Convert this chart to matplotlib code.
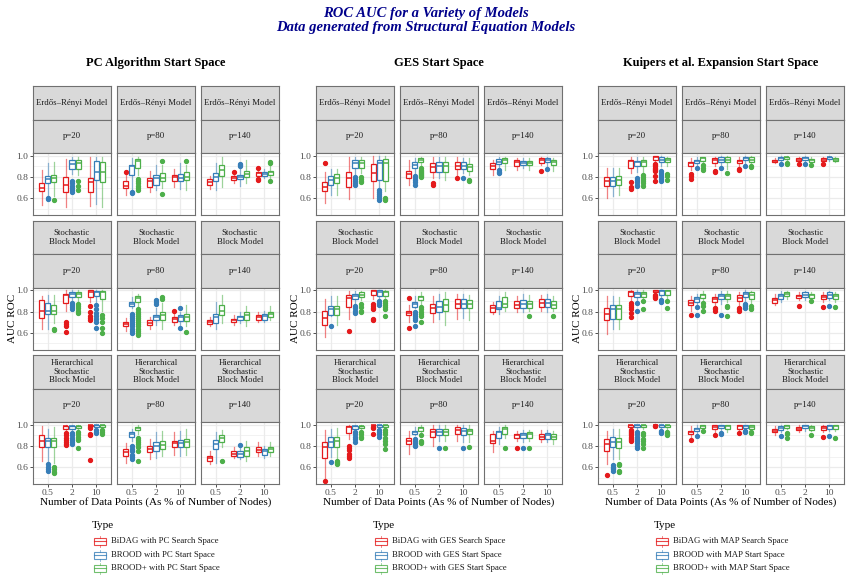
"""ROC AUC por modelo: 3 espacios de inicio x 3 modelos de grafo x 3 tamaños p."""
import matplotlib
matplotlib.use("Agg")
import matplotlib.pyplot as plt
from matplotlib.patches import Rectangle

plt.rcParams["font.family"] = ["Liberation Serif", "DejaVu Serif"]

# ---------------------------------------------------------------- datos
CATS = ["0.5", "2", "10"]
P_LABELS = ["p=20", "p=80", "p=140"]
MODELS = ["Erdős–Rényi Model", "Stochastic\nBlock Model",
          "Hierarchical\nStochastic\nBlock Model"]
GROUP_TITLES = ["PC Algorithm Start Space", "GES Start Space",
                "Kuipers et al. Expansion Start Space"]
LEGEND_LABELS = [
    ["BiDAG with PC Search Space", "BROOD with PC Start Space", "BROOD+ with PC Start Space"],
    ["BiDAG with GES Search Space", "BROOD with GES Start Space", "BROOD+ with GES Start Space"],
    ["BiDAG with MAP Search Space", "BROOD with MAP Start Space", "BROOD+ with MAP Start Space"],
]
COLORS = ["#E41A1C", "#377EB8", "#4DAF4A"]

# cada caja: (whisker bajo, q1, mediana, q3, whisker alto, outliers)
# orden por panel: 0.5 (BiDAG, BROOD, BROOD+), 2 (...), 10 (...)
PC_ER = [
    [(0.54, 0.67, 0.70, 0.74, 0.87, []),
     (0.63, 0.74, 0.78, 0.81, 0.93, [0.60, 0.59]),
     (0.62, 0.75, 0.79, 0.82, 0.94, [0.58]),
     (0.52, 0.66, 0.73, 0.80, 0.97, []),
     (0.83, 0.88, 0.92, 0.96, 0.99, [0.76, 0.74, 0.72, 0.70, 0.68, 0.66]),
     (0.82, 0.88, 0.93, 0.96, 0.99, [0.76, 0.72, 0.68]),
     (0.53, 0.66, 0.75, 0.79, 0.99, []),
     (0.55, 0.77, 0.85, 0.95, 0.99, []),
     (0.52, 0.75, 0.85, 0.94, 0.99, [])],
    [(0.63, 0.70, 0.72, 0.76, 0.82, [0.85]),
     (0.69, 0.82, 0.90, 0.91, 0.98, [0.66, 0.65]),
     (0.82, 0.89, 0.95, 0.97, 0.99, [0.78, 0.76, 0.74, 0.72, 0.70, 0.68]),
     (0.66, 0.71, 0.76, 0.79, 0.86, []),
     (0.68, 0.73, 0.79, 0.82, 0.91, []),
     (0.70, 0.76, 0.79, 0.84, 0.91, [0.95, 0.64]),
     (0.71, 0.76, 0.80, 0.82, 0.88, []),
     (0.69, 0.76, 0.79, 0.83, 0.93, []),
     (0.68, 0.77, 0.80, 0.85, 0.91, [0.95])],
    [(0.69, 0.73, 0.755, 0.78, 0.81, []),
     (0.68, 0.76, 0.80, 0.84, 0.93, []),
     (0.71, 0.81, 0.87, 0.91, 0.99, []),
     (0.74, 0.77, 0.79, 0.81, 0.83, [0.85]),
     (0.72, 0.78, 0.80, 0.82, 0.88, [0.92, 0.91, 0.90]),
     (0.74, 0.80, 0.83, 0.86, 0.96, []),
     (0.79, 0.81, 0.835, 0.85, 0.87, [0.89, 0.78, 0.77]),
     (0.79, 0.81, 0.83, 0.85, 0.88, []),
     (0.79, 0.82, 0.845, 0.86, 0.90, [0.94, 0.93, 0.76])],
]
PC_SBM = [
    [(0.64, 0.74, 0.81, 0.91, 0.95, []),
     (0.64, 0.78, 0.81, 0.88, 0.96, []),
     (0.69, 0.78, 0.81, 0.86, 0.96, [0.64, 0.63]),
     (0.81, 0.88, 0.955, 0.97, 1.0, [0.70, 0.68, 0.66, 0.61]),
     (0.89, 0.94, 0.97, 0.98, 1.0, [0.88, 0.86, 0.84, 0.82]),
     (0.89, 0.94, 0.97, 0.98, 1.0, [0.87, 0.85, 0.83, 0.81, 0.79]),
     (0.89, 0.94, 0.98, 1.0, 1.0, [0.85, 0.80, 0.76, 0.74, 0.72]),
     (0.89, 0.95, 0.98, 0.99, 1.0, [0.86, 0.82, 0.79, 0.76, 0.73, 0.70, 0.65]),
     (0.81, 0.92, 0.98, 0.99, 1.0, [0.77, 0.74, 0.70, 0.65, 0.60])],
    [(0.62, 0.66, 0.68, 0.70, 0.74, []),
     (0.83, 0.85, 0.875, 0.89, 0.94, [0.78, 0.76, 0.74, 0.72, 0.70, 0.68, 0.66, 0.64, 0.62, 0.60]),
     (0.85, 0.89, 0.925, 0.95, 0.97, [0.82, 0.80, 0.78, 0.76, 0.74, 0.72, 0.70, 0.68, 0.66,
                                      0.64, 0.62, 0.60, 0.58]),
     (0.64, 0.67, 0.695, 0.72, 0.75, []),
     (0.67, 0.72, 0.745, 0.77, 0.83, [0.91, 0.89, 0.87]),
     (0.64, 0.72, 0.765, 0.80, 0.88, [0.94, 0.92]),
     (0.67, 0.70, 0.735, 0.75, 0.79, [0.81]),
     (0.67, 0.71, 0.745, 0.77, 0.80, [0.835, 0.65]),
     (0.66, 0.71, 0.75, 0.78, 0.86, [0.61])],
    [(0.66, 0.68, 0.70, 0.72, 0.75, []),
     (0.64, 0.69, 0.75, 0.78, 0.89, []),
     (0.69, 0.77, 0.81, 0.86, 0.96, []),
     (0.67, 0.70, 0.72, 0.735, 0.77, []),
     (0.69, 0.72, 0.745, 0.76, 0.80, []),
     (0.66, 0.72, 0.765, 0.80, 0.85, []),
     (0.70, 0.72, 0.745, 0.77, 0.80, []),
     (0.70, 0.725, 0.755, 0.78, 0.81, []),
     (0.72, 0.745, 0.775, 0.80, 0.85, [])],
]
PC_HSBM = [
    [(0.66, 0.79, 0.85, 0.90, 0.99, []),
     (0.66, 0.79, 0.845, 0.88, 0.96, [0.63, 0.60, 0.58, 0.57]),
     (0.645, 0.79, 0.845, 0.88, 0.98, [0.60, 0.58, 0.56, 0.55]),
     (0.93, 0.96, 0.99, 0.99, 1.0, [0.92, 0.90, 0.88, 0.86, 0.84, 0.82, 0.81]),
     (0.93, 0.96, 0.985, 0.99, 1.0, [0.92, 0.90, 0.88, 0.86, 0.84, 0.82]),
     (0.94, 0.97, 0.985, 0.99, 1.0, [0.93, 0.91, 0.89, 0.87, 0.86, 0.78]),
     (0.99, 0.99, 1.0, 1.0, 1.0, [0.98, 0.97, 0.91, 0.90, 0.67]),
     (0.96, 0.98, 0.995, 1.0, 1.0, [0.95, 0.93, 0.92]),
     (0.96, 0.98, 0.995, 1.0, 1.0, [0.95, 0.93, 0.91])],
    [(0.645, 0.71, 0.74, 0.77, 0.83, []),
     (0.85, 0.89, 0.91, 0.93, 0.96, [0.80, 0.77, 0.75, 0.72, 0.70, 0.68]),
     (0.91, 0.95, 0.97, 0.98, 1.0, [0.88, 0.86, 0.84, 0.82, 0.79, 0.75, 0.66]),
     (0.68, 0.74, 0.77, 0.80, 0.87, []),
     (0.69, 0.755, 0.80, 0.835, 0.93, []),
     (0.71, 0.77, 0.81, 0.85, 0.945, []),
     (0.72, 0.79, 0.825, 0.85, 0.93, []),
     (0.71, 0.79, 0.825, 0.86, 0.945, []),
     (0.72, 0.79, 0.835, 0.87, 0.96, [])],
    [(0.63, 0.66, 0.685, 0.71, 0.755, []),
     (0.645, 0.77, 0.82, 0.86, 0.93, []),
     (0.79, 0.835, 0.875, 0.90, 0.95, [0.66]),
     (0.685, 0.71, 0.73, 0.755, 0.79, []),
     (0.675, 0.70, 0.725, 0.75, 0.79, [0.81]),
     (0.66, 0.71, 0.75, 0.79, 0.85, []),
     (0.71, 0.74, 0.765, 0.79, 0.835, []),
     (0.69, 0.72, 0.75, 0.77, 0.80, []),
     (0.71, 0.74, 0.77, 0.79, 0.835, [])],
]
GES_ER = [
    [(0.56, 0.665, 0.71, 0.75, 0.85, [0.93]),
     (0.63, 0.73, 0.775, 0.81, 0.88, []),
     (0.63, 0.74, 0.79, 0.83, 0.88, []),
     (0.59, 0.71, 0.79, 0.85, 0.99, []),
     (0.82, 0.89, 0.93, 0.96, 0.99, [0.80, 0.78, 0.76, 0.74, 0.73]),
     (0.84, 0.89, 0.93, 0.96, 0.99, [0.80, 0.78, 0.76, 0.75]),
     (0.60, 0.76, 0.84, 0.925, 1.0, []),
     (0.70, 0.775, 0.93, 0.96, 1.0, [0.68, 0.66, 0.64, 0.62, 0.60, 0.58]),
     (0.665, 0.76, 0.93, 0.97, 1.0, [0.60, 0.59, 0.58])],
    [(0.73, 0.79, 0.83, 0.86, 0.96, []),
     (0.84, 0.885, 0.915, 0.94, 0.98, [0.81, 0.79, 0.77, 0.75, 0.73]),
     (0.90, 0.94, 0.96, 0.98, 0.99, [0.89, 0.87, 0.86, 0.85, 0.84, 0.83, 0.82, 0.81, 0.80]),
     (0.79, 0.85, 0.895, 0.93, 0.99, [0.74, 0.73]),
     (0.79, 0.85, 0.90, 0.94, 0.99, []),
     (0.775, 0.85, 0.90, 0.94, 0.99, []),
     (0.805, 0.875, 0.905, 0.94, 0.99, [0.79]),
     (0.84, 0.875, 0.905, 0.94, 0.98, [0.79]),
     (0.82, 0.86, 0.895, 0.925, 0.98, [0.77, 0.76])],
    [(0.82, 0.875, 0.905, 0.93, 0.96, []),
     (0.885, 0.925, 0.945, 0.97, 0.99, [0.87, 0.85, 0.84]),
     (0.87, 0.93, 0.96, 0.98, 0.99, []),
     (0.87, 0.905, 0.94, 0.96, 0.98, []),
     (0.885, 0.915, 0.935, 0.955, 0.98, []),
     (0.87, 0.915, 0.935, 0.955, 0.98, []),
     (0.915, 0.93, 0.96, 0.98, 0.99, [0.86]),
     (0.90, 0.94, 0.96, 0.98, 0.99, [0.875]),
     (0.855, 0.915, 0.945, 0.96, 0.98, [])],
]
GES_SBM = [
    [(0.56, 0.67, 0.74, 0.81, 0.915, []),
     (0.76, 0.77, 0.82, 0.85, 0.95, [0.66]),
     (0.67, 0.77, 0.82, 0.85, 0.95, []),
     (0.73, 0.84, 0.93, 0.96, 0.99, [0.62]),
     (0.875, 0.915, 0.95, 0.97, 0.99, [0.85, 0.83, 0.81, 0.79]),
     (0.905, 0.94, 0.96, 0.98, 0.99, [0.87, 0.84, 0.81, 0.80]),
     (0.92, 0.96, 0.99, 1.0, 1.0, [0.87, 0.85, 0.83, 0.82, 0.73, 0.72]),
     (0.91, 0.95, 0.985, 1.0, 1.0, [0.90, 0.88, 0.86]),
     (0.92, 0.95, 0.985, 0.99, 1.0, [0.90, 0.88, 0.86, 0.84, 0.82, 0.76])],
    [(0.70, 0.765, 0.785, 0.81, 0.86, [0.93, 0.65]),
     (0.83, 0.84, 0.875, 0.89, 0.95, [0.80, 0.78, 0.76, 0.74, 0.72, 0.66]),
     (0.875, 0.905, 0.935, 0.95, 0.985, [0.84, 0.82, 0.80, 0.78, 0.76, 0.70]),
     (0.70, 0.79, 0.835, 0.875, 0.95, []),
     (0.73, 0.80, 0.84, 0.895, 0.97, []),
     (0.67, 0.81, 0.865, 0.915, 0.985, []),
     (0.73, 0.83, 0.875, 0.915, 0.97, []),
     (0.74, 0.83, 0.875, 0.915, 0.97, []),
     (0.72, 0.83, 0.87, 0.905, 0.96, [])],
    [(0.78, 0.80, 0.835, 0.86, 0.89, []),
     (0.78, 0.82, 0.835, 0.895, 0.95, []),
     (0.81, 0.84, 0.875, 0.94, 0.985, []),
     (0.795, 0.835, 0.865, 0.895, 0.95, []),
     (0.795, 0.835, 0.875, 0.905, 0.97, []),
     (0.81, 0.835, 0.875, 0.895, 0.955, [0.755]),
     (0.81, 0.84, 0.885, 0.915, 0.96, []),
     (0.80, 0.84, 0.885, 0.915, 0.97, []),
     (0.81, 0.835, 0.865, 0.895, 0.95, [0.755])],
]
GES_HSBM = [
    [(0.50, 0.685, 0.79, 0.835, 0.95, [0.47]),
     (0.70, 0.79, 0.84, 0.89, 0.96, [0.65]),
     (0.69, 0.79, 0.845, 0.89, 0.97, [0.66, 0.65, 0.64, 0.63]),
     (0.87, 0.92, 0.98, 0.99, 1.0, [0.80, 0.78, 0.76, 0.73, 0.71, 0.69]),
     (0.945, 0.96, 0.985, 0.99, 1.0, [0.93, 0.91, 0.89, 0.87, 0.84]),
     (0.95, 0.97, 0.985, 0.99, 1.0, [0.93, 0.91, 0.89, 0.88]),
     (0.99, 0.995, 1.0, 1.0, 1.0, [0.98, 0.97, 0.91]),
     (0.96, 0.98, 0.995, 1.0, 1.0, [0.95, 0.93, 0.91, 0.89]),
     (0.96, 0.98, 0.995, 1.0, 1.0, [0.95, 0.93, 0.91, 0.88, 0.85, 0.82, 0.77])],
    [(0.725, 0.82, 0.85, 0.88, 0.945, []),
     (0.90, 0.915, 0.93, 0.945, 0.98, [0.87, 0.85, 0.83, 0.81, 0.80]),
     (0.915, 0.945, 0.97, 0.98, 1.0, [0.90, 0.85, 0.84, 0.83]),
     (0.80, 0.89, 0.93, 0.96, 0.995, []),
     (0.85, 0.90, 0.935, 0.96, 1.0, [0.785]),
     (0.85, 0.90, 0.935, 0.96, 1.0, [0.785]),
     (0.85, 0.91, 0.95, 0.98, 1.0, []),
     (0.835, 0.905, 0.945, 0.97, 1.0, [0.78]),
     (0.835, 0.91, 0.94, 0.96, 1.0, [0.79])],
    [(0.74, 0.825, 0.85, 0.915, 0.945, []),
     (0.82, 0.88, 0.93, 0.945, 0.98, []),
     (0.88, 0.91, 0.96, 0.98, 1.0, [0.785]),
     (0.85, 0.875, 0.90, 0.915, 0.945, [0.78]),
     (0.835, 0.875, 0.90, 0.92, 0.95, [0.785]),
     (0.85, 0.88, 0.91, 0.93, 0.955, [0.785]),
     (0.835, 0.87, 0.89, 0.915, 0.95, []),
     (0.835, 0.87, 0.90, 0.92, 0.95, []),
     (0.82, 0.87, 0.89, 0.915, 0.945, [])],
]
MAP_ER = [
    [(0.60, 0.715, 0.765, 0.80, 0.89, []),
     (0.62, 0.715, 0.765, 0.80, 0.89, []),
     (0.63, 0.725, 0.77, 0.81, 0.89, []),
     (0.835, 0.89, 0.955, 0.965, 0.99, [0.75, 0.71, 0.69]),
     (0.85, 0.90, 0.94, 0.955, 0.985, [0.79, 0.77, 0.75, 0.73, 0.72]),
     (0.85, 0.90, 0.94, 0.96, 0.985, [0.82, 0.80, 0.78, 0.76, 0.74, 0.72]),
     (0.93, 0.96, 0.985, 1.0, 1.0, [0.92, 0.91, 0.90, 0.89, 0.88, 0.87, 0.86, 0.81, 0.76]),
     (0.90, 0.94, 0.965, 0.985, 1.0, [0.86, 0.84, 0.82, 0.80, 0.78, 0.76]),
     (0.90, 0.94, 0.96, 0.975, 0.99, [0.83, 0.81, 0.77])],
    [(0.87, 0.905, 0.93, 0.945, 0.975, [0.83, 0.81, 0.78]),
     (0.90, 0.935, 0.95, 0.965, 0.99, [0.89]),
     (0.93, 0.955, 0.975, 0.985, 0.99, [0.91, 0.89, 0.87]),
     (0.90, 0.935, 0.96, 0.975, 0.99, [0.86, 0.85]),
     (0.91, 0.945, 0.965, 0.985, 0.995, [0.89]),
     (0.88, 0.94, 0.965, 0.985, 0.995, [0.84]),
     (0.90, 0.935, 0.955, 0.965, 0.99, [0.88, 0.87]),
     (0.93, 0.96, 0.98, 0.99, 0.995, [0.90]),
     (0.92, 0.945, 0.965, 0.985, 0.995, [0.905, 0.895])],
    [(0.93, 0.94, 0.955, 0.965, 0.98, []),
     (0.945, 0.96, 0.975, 0.985, 0.995, [0.92]),
     (0.95, 0.97, 0.985, 0.99, 1.0, [0.93, 0.92]),
     (0.945, 0.955, 0.965, 0.975, 0.99, [0.92]),
     (0.945, 0.96, 0.975, 0.985, 0.995, [0.92]),
     (0.93, 0.945, 0.96, 0.97, 0.99, [0.91]),
     (0.945, 0.955, 0.965, 0.975, 0.99, [0.92]),
     (0.95, 0.97, 0.985, 0.99, 1.0, []),
     (0.945, 0.955, 0.965, 0.975, 0.99, [])],
]
MAP_SBM = [
    [(0.59, 0.72, 0.78, 0.83, 0.95, []),
     (0.64, 0.73, 0.82, 0.86, 0.95, []),
     (0.64, 0.73, 0.82, 0.86, 0.94, []),
     (0.905, 0.95, 0.98, 0.99, 1.0, [0.88, 0.86, 0.84, 0.82, 0.79, 0.75]),
     (0.905, 0.94, 0.97, 0.985, 1.0, [0.88, 0.81]),
     (0.92, 0.94, 0.97, 0.985, 1.0, [0.90, 0.82]),
     (0.97, 0.985, 0.995, 1.0, 1.0, [0.96, 0.95, 0.94, 0.93]),
     (0.93, 0.96, 0.99, 1.0, 1.0, [0.91, 0.89]),
     (0.92, 0.96, 0.99, 1.0, 1.0, [0.90, 0.83])],
    [(0.81, 0.86, 0.885, 0.905, 0.95, [0.765]),
     (0.86, 0.89, 0.92, 0.935, 0.97, [0.84, 0.77]),
     (0.89, 0.93, 0.955, 0.97, 0.99, [0.88, 0.85, 0.81]),
     (0.86, 0.89, 0.915, 0.935, 0.97, [0.83, 0.82, 0.81]),
     (0.875, 0.915, 0.945, 0.97, 0.99, [0.77]),
     (0.89, 0.915, 0.95, 0.97, 0.99, [0.85, 0.84, 0.76]),
     (0.845, 0.895, 0.93, 0.955, 0.98, [0.83, 0.82, 0.81]),
     (0.89, 0.935, 0.97, 0.985, 1.0, [0.87, 0.86, 0.85, 0.83]),
     (0.875, 0.92, 0.955, 0.98, 0.99, [0.85, 0.83, 0.82])],
    [(0.86, 0.885, 0.905, 0.93, 0.97, []),
     (0.89, 0.92, 0.945, 0.97, 0.99, []),
     (0.92, 0.945, 0.97, 0.985, 0.995, []),
     (0.905, 0.93, 0.945, 0.96, 0.98, [0.855]),
     (0.905, 0.935, 0.96, 0.98, 0.99, []),
     (0.915, 0.93, 0.955, 0.97, 0.985, [0.90]),
     (0.89, 0.915, 0.935, 0.96, 0.985, [0.845]),
     (0.905, 0.93, 0.96, 0.98, 0.99, [0.85]),
     (0.89, 0.92, 0.945, 0.97, 0.985, [0.845])],
]
MAP_HSBM = [
    [(0.63, 0.75, 0.82, 0.87, 0.945, [0.53]),
     (0.68, 0.79, 0.835, 0.885, 0.96, [0.62, 0.60, 0.59, 0.58, 0.57]),
     (0.68, 0.78, 0.835, 0.88, 0.96, [0.63, 0.62, 0.57, 0.56]),
     (0.96, 0.98, 0.995, 1.0, 1.0, [0.95, 0.94, 0.93, 0.92, 0.91, 0.90, 0.89, 0.88, 0.87,
                                    0.86, 0.85]),
     (0.96, 0.98, 0.995, 1.0, 1.0, [0.93, 0.91, 0.89, 0.87, 0.85, 0.83, 0.80, 0.78]),
     (0.96, 0.98, 0.995, 1.0, 1.0, [0.92, 0.90, 0.87, 0.85, 0.82, 0.78]),
     (0.995, 0.995, 1.0, 1.0, 1.0, [0.99, 0.985]),
     (0.95, 0.98, 0.995, 1.0, 1.0, [0.94, 0.93, 0.92]),
     (0.955, 0.98, 0.995, 1.0, 1.0, [0.93, 0.92, 0.91, 0.90])],
    [(0.885, 0.91, 0.93, 0.945, 0.985, [0.86]),
     (0.915, 0.94, 0.96, 0.97, 1.0, [0.895]),
     (0.96, 0.97, 0.985, 0.995, 1.0, [0.94]),
     (0.93, 0.96, 0.98, 0.995, 1.0, [0.905]),
     (0.945, 0.97, 0.99, 1.0, 1.0, [0.92, 0.915]),
     (0.93, 0.96, 0.985, 0.995, 1.0, []),
     (0.945, 0.96, 0.985, 0.995, 1.0, [0.92]),
     (0.95, 0.97, 0.99, 1.0, 1.0, [0.94, 0.93]),
     (0.945, 0.96, 0.98, 0.995, 1.0, [0.93, 0.92])],
    [(0.90, 0.93, 0.945, 0.96, 0.985, []),
     (0.93, 0.95, 0.97, 0.985, 1.0, [0.895]),
     (0.96, 0.97, 0.985, 0.995, 1.0, [0.92, 0.91, 0.875]),
     (0.93, 0.95, 0.96, 0.98, 1.0, []),
     (0.945, 0.97, 0.985, 0.995, 1.0, []),
     (0.945, 0.95, 0.97, 0.985, 1.0, [0.905]),
     (0.93, 0.95, 0.97, 0.985, 1.0, [0.885]),
     (0.94, 0.96, 0.985, 0.995, 1.0, [0.895]),
     (0.94, 0.96, 0.985, 0.995, 1.0, [0.875])],
]
GROUP_DATA = [[PC_ER, PC_SBM, PC_HSBM],
              [GES_ER, GES_SBM, GES_HSBM],
              [MAP_ER, MAP_SBM, MAP_HSBM]]

# ---------------------------------------------------------------- layout (pixeles)
W, H = 852, 580
GROUP_X = [33, 316, 598]
COL_DX = 84
PANEL_W = 78
ROW_Y = [86, 220.5, 355]
STRIP_H = 33.5
DATA_H = 62
STRIP_FILL = "#D9D9D9"
BORDER = "#707070"
GRID = "#EBEBEB"


def rect(x, y, w, h):
    return [x / W, 1 - (y + h) / H, w / W, h / H]


def strip(fig, x, y, label):
    ax = fig.add_axes(rect(x, y, PANEL_W, STRIP_H))
    ax.set_facecolor(STRIP_FILL)
    ax.set_xticks([]); ax.set_yticks([])
    for s in ax.spines.values():
        s.set_color(BORDER); s.set_linewidth(0.8)
    ax.text(0.5, 0.5, label, ha="center", va="center", transform=ax.transAxes,
            fontsize=6.3, color="#1A1A1A", linespacing=1.1)


def panel(fig, x, y, boxes, left, bottom):
    ax = fig.add_axes(rect(x, y, PANEL_W, DATA_H))
    ax.set_xlim(0.4, 3.6); ax.set_ylim(0.4435, 1.0265)
    ax.set_yticks([0.6, 0.8, 1.0]); ax.set_yticks([0.5, 0.7, 0.9], minor=True)
    ax.set_xticks([1, 2, 3])
    ax.grid(which="major", color=GRID, linewidth=0.9)
    ax.grid(which="minor", axis="y", color=GRID, linewidth=0.45)
    ax.set_axisbelow(True)
    for k, (lo, q1, med, q3, hi, out) in enumerate(boxes):
        cat, t = divmod(k, 3)
        c = COLORS[t]
        st = dict(whislo=lo, q1=q1, med=med, q3=q3, whishi=hi, fliers=out)
        ax.bxp([st], positions=[cat + 1 + (t - 1) * 0.25], widths=0.21,
               showcaps=False, patch_artist=True, manage_ticks=False,
               boxprops=dict(facecolor="white", edgecolor=c, linewidth=0.9),
               medianprops=dict(color=c, linewidth=1.1),
               whiskerprops=dict(color=c, linewidth=0.9, alpha=0.55),
               flierprops=dict(marker="o", markerfacecolor=c, markeredgecolor=c,
                               markersize=2.8, linestyle="none"))
    for s in ax.spines.values():
        s.set_color(BORDER); s.set_linewidth(0.8)
    ax.tick_params(which="minor", length=0)
    ax.tick_params(which="major", length=2, width=0.6, color="#333333",
                   labelsize=6.8, labelcolor="#4D4D4D", pad=1.5)
    if left:
        ax.set_yticklabels(["0.6", "0.8", "1.0"])
    else:
        ax.tick_params(axis="y", length=0, labelleft=False)
    if bottom:
        ax.set_xticklabels(CATS)
    else:
        ax.tick_params(axis="x", length=0, labelbottom=False)


fig = plt.figure(figsize=(W / 100, H / 100), dpi=100)

for g in range(3):
    for r in range(3):
        for c in range(3):
            x = GROUP_X[g] + c * COL_DX
            y = ROW_Y[r]
            strip(fig, x, y, MODELS[r])
            strip(fig, x, y + STRIP_H, P_LABELS[c])
            panel(fig, x, y + 2 * STRIP_H, GROUP_DATA[g][r][c], c == 0, r == 2)

ov = fig.add_axes([0, 0, 1, 1], zorder=10)
ov.set_xlim(0, W); ov.set_ylim(H, 0); ov.axis("off")

ov.text(W / 2, 13, "ROC AUC for a Variety of Models", ha="center", va="center",
        fontsize=10.5, fontweight="bold", style="italic", color="#00008B")
ov.text(W / 2, 27, "Data generated from Structural Equation Models", ha="center",
        va="center", fontsize=10.5, fontweight="bold", style="italic", color="#00008B")

LEG_X = [94, 375, 656]
LEG_Y = [541, 555, 568]
for g in range(3):
    cx = GROUP_X[g] + (2 * COL_DX + PANEL_W) / 2
    ov.text(cx, 63, GROUP_TITLES[g], ha="center", va="center", fontsize=9,
            fontweight="bold", color="black")
    ov.text(cx, 502, "Number of Data Points (As % of Number of Nodes)", ha="center",
            va="center", fontsize=8, color="black")
    ov.text(GROUP_X[g] - 20, 318, "AUC ROC", ha="center", va="center", rotation=90,
            fontsize=8, color="black")
    kx = LEG_X[g]
    ov.text(kx - 2, 525, "Type", ha="left", va="center", fontsize=8)
    for t in range(3):
        ky = LEG_Y[t]
        c = COLORS[t]
        ov.add_patch(Rectangle((kx, ky - 3.5), 12, 7, facecolor="white", edgecolor=c,
                               linewidth=0.8, alpha=0.8))
        ov.plot([kx, kx + 12], [ky, ky], color=c, linewidth=0.8, alpha=0.8)
        ov.plot([kx + 6, kx + 6], [ky - 5.5, ky - 3.5], color=c, linewidth=0.6, alpha=0.6)
        ov.plot([kx + 6, kx + 6], [ky + 3.5, ky + 5.5], color=c, linewidth=0.6, alpha=0.6)
        ov.text(kx + 17, ky, LEGEND_LABELS[g][t], ha="left", va="center", fontsize=6.3,
                color="#1A1A1A")

fig.savefig("out.png", dpi=100)
